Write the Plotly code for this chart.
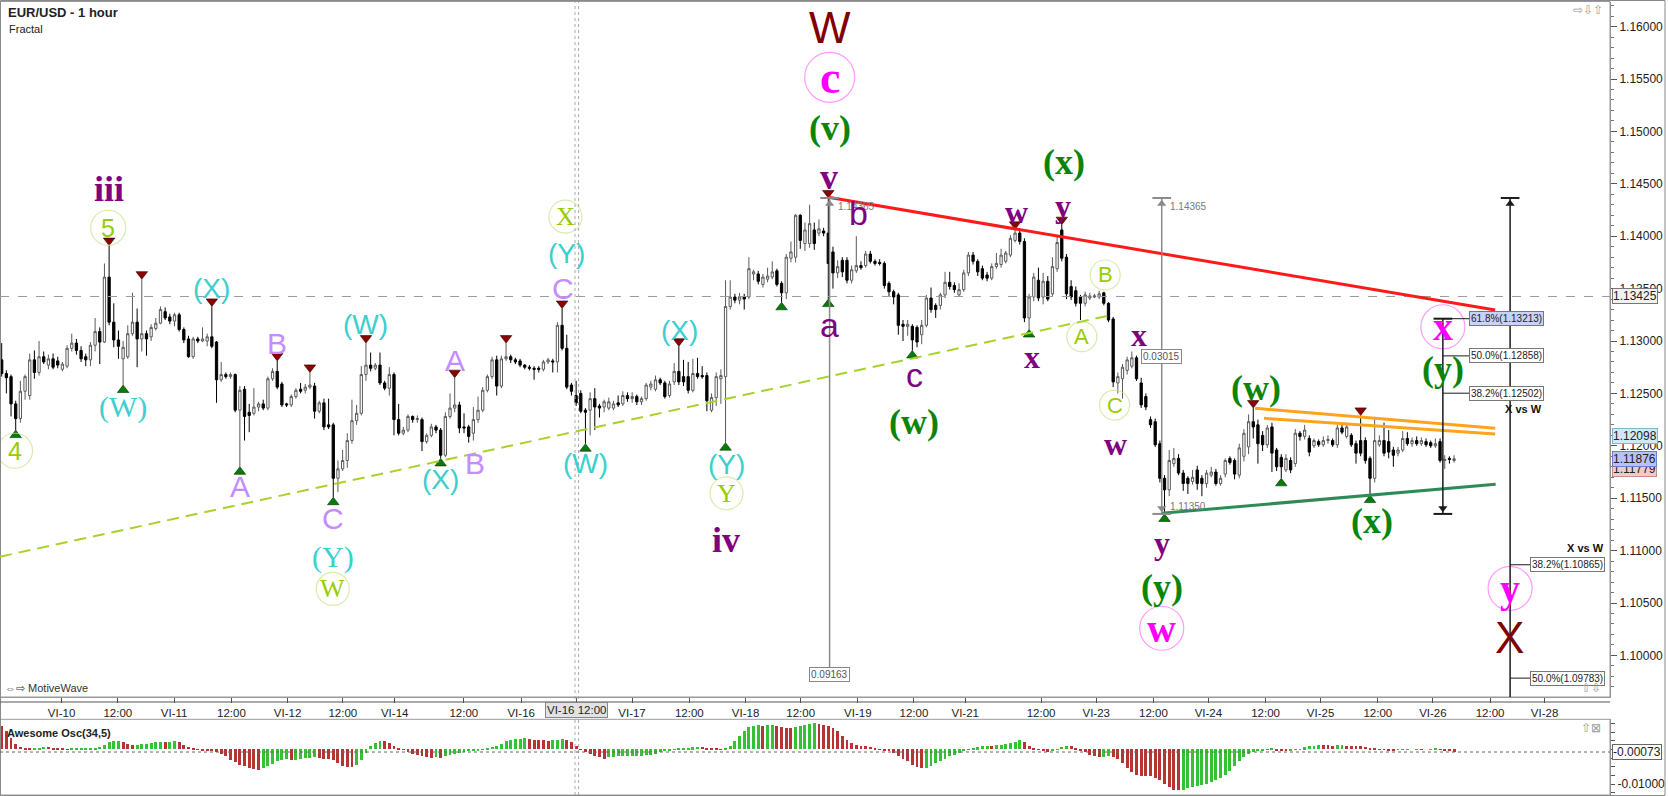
import plotly.graph_objects as go

# ---------------- DATA ----------------
opens = [
    1.1282, 1.1269, 1.1266, 1.1240, 1.1226, 1.1252, 1.1248, 1.1282, 1.1270, 1.1285,
    1.1277, 1.1283, 1.1281, 1.1273, 1.1276, 1.1293, 1.1298, 1.1291, 1.1285, 1.1282,
    1.1296, 1.1309, 1.1299, 1.1361, 1.1318, 1.1301, 1.1283, 1.1285, 1.1307, 1.1318,
    1.1302, 1.1307, 1.1304, 1.1312, 1.1317, 1.1328, 1.1323, 1.1319, 1.1325, 1.1311,
    1.1302, 1.1285, 1.1302, 1.1300, 1.1300, 1.1304, 1.1299, 1.1263, 1.1268, 1.1266,
    1.1268, 1.1234, 1.1254, 1.1232, 1.1231, 1.1237, 1.1240, 1.1236, 1.1264, 1.1271,
    1.1259, 1.1240, 1.1239, 1.1247, 1.1254, 1.1253, 1.1256, 1.1257, 1.1233, 1.1241,
    1.1220, 1.1220, 1.1169, 1.1178, 1.1186, 1.1205, 1.1224, 1.1231, 1.1268, 1.1277,
    1.1274, 1.1277, 1.1260, 1.1255, 1.1268, 1.1225, 1.1212, 1.1215, 1.1228, 1.1225,
    1.1225, 1.1204, 1.1210, 1.1218, 1.1215, 1.1191, 1.1228, 1.1236, 1.1239, 1.1218,
    1.1218, 1.1212, 1.1225, 1.1234, 1.1253, 1.1266, 1.1282, 1.1257, 1.1283, 1.1285,
    1.1282, 1.1281, 1.1277, 1.1275, 1.1274, 1.1274, 1.1273, 1.1280, 1.1281, 1.1280,
    1.1315, 1.1293, 1.1258, 1.1248, 1.1250, 1.1234, 1.1234, 1.1245, 1.1238, 1.1237,
    1.1236, 1.1236, 1.1241, 1.1240, 1.1248, 1.1245, 1.1247, 1.1242, 1.1245, 1.1256,
    1.1254, 1.1263, 1.1260, 1.1248, 1.1261, 1.1271, 1.1266, 1.1266, 1.1253, 1.1269,
    1.1267, 1.1267, 1.1234, 1.1246, 1.1264, 1.1266, 1.1333, 1.1342, 1.1339, 1.1342,
    1.1342, 1.1364, 1.1364, 1.1354, 1.1359, 1.1361, 1.1367, 1.1355, 1.1346, 1.1379,
    1.1380, 1.1420, 1.1393, 1.1393, 1.1406, 1.1403, 1.1405, 1.1403, 1.1385, 1.1365,
    1.1377, 1.1377, 1.1358, 1.1367, 1.1372, 1.1372, 1.1383, 1.1376, 1.1375, 1.1374,
    1.1355, 1.1347, 1.1344, 1.1316, 1.1314, 1.1314, 1.1313, 1.1306, 1.1315, 1.1341,
    1.1334, 1.1334, 1.1344, 1.1356, 1.1353, 1.1344, 1.1349, 1.1365, 1.1382, 1.1376,
    1.1369, 1.1363, 1.1360, 1.1371, 1.1373, 1.1376, 1.1382, 1.1396, 1.1403, 1.1395,
    1.1322, 1.1342, 1.1358, 1.1342, 1.1357, 1.1345, 1.1369, 1.1406, 1.1380, 1.1352,
    1.1348, 1.1342, 1.1336, 1.1341, 1.1342, 1.1342, 1.1346, 1.1336, 1.1321, 1.1260,
    1.1264, 1.1272, 1.1276, 1.1284, 1.1260, 1.1247, 1.1225, 1.1223, 1.1202, 1.1169,
    1.1158, 1.1183, 1.1188, 1.1174, 1.1169, 1.1166, 1.1177, 1.1169, 1.1164, 1.1172,
    1.1175, 1.1164, 1.1173, 1.1188, 1.1186, 1.1172, 1.1190, 1.1199, 1.1223, 1.1220,
    1.1210, 1.1201, 1.1218, 1.1196, 1.1189, 1.1177, 1.1186, 1.1183, 1.1212, 1.1209,
    1.1207, 1.1200, 1.1204, 1.1201, 1.1205, 1.1205, 1.1201, 1.1217, 1.1209, 1.1210,
    1.1202, 1.1205, 1.1205, 1.1188, 1.1169, 1.1201, 1.1205, 1.1204, 1.1196, 1.1193,
    1.1196, 1.1207, 1.1202, 1.1205, 1.1202, 1.1204, 1.1203, 1.1200, 1.1204, 1.1186,
    1.1188, 1.1186,
]
highs = [
    1.1298, 1.1272, 1.1268, 1.1243, 1.1262, 1.1268, 1.1288, 1.1291, 1.1300, 1.1290,
    1.1287, 1.1288, 1.1285, 1.1280, 1.1296, 1.1307, 1.1302, 1.1295, 1.1288, 1.1299,
    1.1322, 1.1313, 1.1374, 1.1391, 1.1336, 1.1310, 1.1300, 1.1315, 1.1346, 1.1331,
    1.1359, 1.1310, 1.1316, 1.1322, 1.1333, 1.1332, 1.1326, 1.1327, 1.1327, 1.1313,
    1.1305, 1.1304, 1.1304, 1.1313, 1.1307, 1.1333, 1.1300, 1.1280, 1.1270, 1.1270,
    1.1269, 1.1257, 1.1257, 1.1240, 1.1255, 1.1242, 1.1244, 1.1266, 1.1274, 1.1281,
    1.1261, 1.1241, 1.1249, 1.1255, 1.1260, 1.1259, 1.1270, 1.1260, 1.1243, 1.1245,
    1.1245, 1.1222, 1.1186, 1.1196, 1.1212, 1.1244, 1.1239, 1.1276, 1.1298, 1.1289,
    1.1279, 1.1289, 1.1262, 1.1275, 1.1270, 1.1240, 1.1218, 1.1230, 1.1229, 1.1229,
    1.1227, 1.1212, 1.1221, 1.1220, 1.1217, 1.1232, 1.1250, 1.1265, 1.1242, 1.1231,
    1.1220, 1.1237, 1.1247, 1.1256, 1.1268, 1.1285, 1.1286, 1.1286, 1.1298, 1.1287,
    1.1284, 1.1283, 1.1278, 1.1277, 1.1276, 1.1276, 1.1282, 1.1284, 1.1283, 1.1318,
    1.1331, 1.1306, 1.1260, 1.1262, 1.1253, 1.1236, 1.1251, 1.1255, 1.1240, 1.1244,
    1.1246, 1.1243, 1.1248, 1.1252, 1.1251, 1.1251, 1.1249, 1.1247, 1.1260, 1.1262,
    1.1267, 1.1265, 1.1262, 1.1262, 1.1279, 1.1295, 1.1282, 1.1280, 1.1283, 1.1284,
    1.1276, 1.1270, 1.1250, 1.1270, 1.1273, 1.1358, 1.1358, 1.1345, 1.1346, 1.1345,
    1.1380, 1.1368, 1.1367, 1.1364, 1.1370, 1.1376, 1.1369, 1.1357, 1.1383, 1.1395,
    1.1421, 1.1421, 1.1413, 1.1430, 1.1413, 1.1416, 1.1408, 1.14365, 1.1390, 1.1377,
    1.1380, 1.1380, 1.1372, 1.1400, 1.1376, 1.1386, 1.1386, 1.1378, 1.1378, 1.1376,
    1.1357, 1.1349, 1.1346, 1.1320, 1.1320, 1.1316, 1.1315, 1.1320, 1.1344, 1.1351,
    1.1336, 1.1346, 1.1366, 1.1366, 1.1356, 1.1355, 1.1368, 1.1385, 1.1385, 1.1378,
    1.1372, 1.1366, 1.1374, 1.1384, 1.1388, 1.1386, 1.1401, 1.14065, 1.1406, 1.1398,
    1.1345, 1.1365, 1.1370, 1.1365, 1.1362, 1.1380, 1.1400, 1.1411, 1.1383, 1.1358,
    1.1352, 1.1344, 1.1347, 1.1346, 1.1345, 1.1348, 1.1347, 1.1337, 1.1323, 1.1270,
    1.1278, 1.1285, 1.1290, 1.1286, 1.1265, 1.1250, 1.1228, 1.1226, 1.1205, 1.1172,
    1.1196, 1.1198, 1.1192, 1.1177, 1.1171, 1.1177, 1.1181, 1.1172, 1.1177, 1.1180,
    1.1178, 1.1172, 1.1188, 1.1190, 1.1188, 1.1202, 1.1216, 1.1230, 1.1236, 1.1225,
    1.1214, 1.1220, 1.1222, 1.1198, 1.1192, 1.1192, 1.1189, 1.1216, 1.1214, 1.1220,
    1.1210, 1.1207, 1.1206, 1.1209, 1.1210, 1.1207, 1.1220, 1.1221, 1.1222, 1.1212,
    1.1205, 1.1229, 1.1208, 1.1190, 1.1226, 1.1210, 1.1222, 1.1215, 1.1199, 1.1199,
    1.1214, 1.1213, 1.1208, 1.1209, 1.1208, 1.1207, 1.1205, 1.1207, 1.1207, 1.1191,
    1.1190, 1.1191,
]
lows = [
    1.1266, 1.1250, 1.1228, 1.1215, 1.1222, 1.1244, 1.1244, 1.1264, 1.1267, 1.1278,
    1.1273, 1.1273, 1.1274, 1.1271, 1.1274, 1.1290, 1.1287, 1.1280, 1.1276, 1.1276,
    1.1290, 1.1278, 1.1298, 1.1315, 1.1294, 1.1283, 1.1258, 1.1283, 1.1305, 1.1275,
    1.1290, 1.1286, 1.1300, 1.1310, 1.1316, 1.1320, 1.1316, 1.1314, 1.1309, 1.1298,
    1.1284, 1.1283, 1.1298, 1.1299, 1.1295, 1.1293, 1.1241, 1.1261, 1.1264, 1.1264,
    1.1232, 1.1180, 1.1205, 1.1213, 1.1229, 1.1233, 1.1234, 1.1234, 1.1262, 1.1254,
    1.1237, 1.1237, 1.1237, 1.1245, 1.1250, 1.1250, 1.1254, 1.1226, 1.1231, 1.1215,
    1.1216, 1.1151, 1.1156, 1.1176, 1.1179, 1.1202, 1.1220, 1.1229, 1.1262, 1.1271,
    1.1272, 1.1258, 1.1253, 1.1248, 1.1210, 1.1210, 1.1210, 1.1213, 1.1222, 1.1222,
    1.1195, 1.1202, 1.1208, 1.1212, 1.1188, 1.1189, 1.1226, 1.1232, 1.1212, 1.1212,
    1.1203, 1.1205, 1.1222, 1.1232, 1.1251, 1.1264, 1.1248, 1.1255, 1.1281, 1.1279,
    1.1278, 1.1275, 1.1273, 1.1272, 1.1263, 1.1270, 1.1271, 1.1278, 1.1270, 1.1270,
    1.1291, 1.1254, 1.1248, 1.1238, 1.1231, 1.1202, 1.1210, 1.1215, 1.1227, 1.1232,
    1.1234, 1.1234, 1.1237, 1.1238, 1.1242, 1.1241, 1.1239, 1.1239, 1.1243, 1.1253,
    1.1252, 1.1258, 1.1245, 1.1246, 1.1258, 1.1258, 1.1257, 1.1250, 1.1251, 1.1264,
    1.1264, 1.1233, 1.1232, 1.1238, 1.1240, 1.1203, 1.1330, 1.1336, 1.1335, 1.1330,
    1.1340, 1.1358, 1.1354, 1.1351, 1.1356, 1.1359, 1.1352, 1.1337, 1.1340, 1.1375,
    1.1375, 1.1388, 1.1386, 1.1389, 1.1387, 1.1400, 1.1400, 1.1340, 1.1350, 1.1360,
    1.1361, 1.1355, 1.1355, 1.1365, 1.1368, 1.1370, 1.1374, 1.1372, 1.1372, 1.1350,
    1.1343, 1.1335, 1.1306, 1.1300, 1.1305, 1.1291, 1.1294, 1.1297, 1.1313, 1.1327,
    1.1322, 1.1330, 1.1341, 1.1349, 1.1346, 1.1342, 1.1347, 1.1362, 1.1373, 1.1362,
    1.1358, 1.1357, 1.1358, 1.1369, 1.1370, 1.1374, 1.1380, 1.1394, 1.1392, 1.1318,
    1.1311, 1.1338, 1.1338, 1.1335, 1.1338, 1.1343, 1.1366, 1.1376, 1.1340, 1.1339,
    1.1333, 1.1320, 1.1333, 1.1339, 1.1341, 1.1340, 1.1334, 1.1318, 1.1256, 1.1250,
    1.1245, 1.1268, 1.1274, 1.1262, 1.1236, 1.1234, 1.1217, 1.1199, 1.1165, 1.1135,
    1.1152, 1.1180, 1.1172, 1.1157, 1.1154, 1.1163, 1.1158, 1.1152, 1.1160, 1.1170,
    1.1162, 1.1162, 1.1170, 1.1182, 1.1168, 1.1169, 1.1185, 1.1192, 1.1207, 1.1183,
    1.1195, 1.1198, 1.1175, 1.1176, 1.1169, 1.1175, 1.1174, 1.1180, 1.1205, 1.1206,
    1.1190, 1.1198, 1.1199, 1.1199, 1.1202, 1.1199, 1.1198, 1.1211, 1.1207, 1.1199,
    1.1183, 1.1190, 1.1183, 1.1153, 1.1165, 1.1199, 1.1190, 1.1188, 1.1180, 1.1190,
    1.1194, 1.1200, 1.1199, 1.1200, 1.1200, 1.1199, 1.1198, 1.1198, 1.1184, 1.1178,
    1.1183, 1.1184,
]
closes = [
    1.1269, 1.1265, 1.1240, 1.1226, 1.1252, 1.1266, 1.1282, 1.1270, 1.1285, 1.1280,
    1.1283, 1.1275, 1.1277, 1.1278, 1.1293, 1.1298, 1.1291, 1.1283, 1.1282, 1.1296,
    1.1309, 1.1299, 1.1361, 1.1318, 1.1301, 1.1295, 1.1294, 1.1307, 1.1318, 1.1302,
    1.1307, 1.1302, 1.1313, 1.1317, 1.1330, 1.1322, 1.1319, 1.1325, 1.1311, 1.1301,
    1.1285, 1.1302, 1.1300, 1.1302, 1.1304, 1.1295, 1.1263, 1.1268, 1.1266, 1.1268,
    1.1234, 1.1253, 1.1228, 1.1229, 1.1237, 1.1240, 1.1236, 1.1264, 1.1271, 1.1256,
    1.1239, 1.1239, 1.1247, 1.1253, 1.1252, 1.1256, 1.1258, 1.1233, 1.1241, 1.1218,
    1.1218, 1.1169, 1.1178, 1.1186, 1.1205, 1.1224, 1.1231, 1.1268, 1.1277, 1.1274,
    1.1277, 1.1260, 1.1255, 1.1268, 1.1225, 1.1212, 1.1215, 1.1228, 1.1225, 1.1226,
    1.1204, 1.1210, 1.1218, 1.1215, 1.1191, 1.1228, 1.1236, 1.1239, 1.1217, 1.1217,
    1.1209, 1.1225, 1.1234, 1.1253, 1.1266, 1.1282, 1.1257, 1.1283, 1.1285, 1.1282,
    1.1280, 1.1277, 1.1275, 1.1274, 1.1273, 1.1273, 1.1280, 1.1282, 1.1280, 1.1315,
    1.1293, 1.1256, 1.1252, 1.1241, 1.1233, 1.1232, 1.1245, 1.1237, 1.1236, 1.1242,
    1.1242, 1.1240, 1.1239, 1.1248, 1.1245, 1.1247, 1.1242, 1.1245, 1.1258, 1.1259,
    1.1263, 1.1260, 1.1247, 1.1259, 1.1271, 1.1261, 1.1261, 1.1253, 1.1269, 1.1266,
    1.1266, 1.1243, 1.1246, 1.1266, 1.1267, 1.1333, 1.1342, 1.1339, 1.1342, 1.1340,
    1.1369, 1.1366, 1.1357, 1.1361, 1.1362, 1.1366, 1.1354, 1.1346, 1.1380, 1.1385,
    1.1420, 1.1396, 1.1406, 1.1412, 1.1393, 1.1407, 1.1403, 1.1374, 1.1365, 1.1371,
    1.1366, 1.1358, 1.1368, 1.1372, 1.1370, 1.1383, 1.1376, 1.1374, 1.1374, 1.1353,
    1.1347, 1.1342, 1.1315, 1.1314, 1.1316, 1.1301, 1.1299, 1.1315, 1.1341, 1.1330,
    1.1330, 1.1344, 1.1356, 1.1352, 1.1349, 1.1349, 1.1365, 1.1382, 1.1376, 1.1366,
    1.1360, 1.1360, 1.1371, 1.1374, 1.1382, 1.1384, 1.1398, 1.1403, 1.1395, 1.1322,
    1.1342, 1.1361, 1.1341, 1.1357, 1.1340, 1.1371, 1.1394, 1.1379, 1.1345, 1.1342,
    1.1336, 1.1336, 1.1344, 1.1343, 1.1343, 1.1345, 1.1336, 1.1320, 1.1261, 1.1266,
    1.1275, 1.1282, 1.1284, 1.1264, 1.1239, 1.1237, 1.1220, 1.1201, 1.1169, 1.1158,
    1.1186, 1.1188, 1.1174, 1.1164, 1.1164, 1.1170, 1.1164, 1.1164, 1.1174, 1.1175,
    1.1164, 1.1169, 1.1186, 1.1184, 1.1173, 1.1198, 1.1212, 1.1223, 1.1218, 1.1202,
    1.1201, 1.1217, 1.1193, 1.1180, 1.1180, 1.1188, 1.1177, 1.1212, 1.1209, 1.1215,
    1.1194, 1.1205, 1.1201, 1.1205, 1.1206, 1.1201, 1.1217, 1.1213, 1.1218, 1.1201,
    1.1193, 1.1193, 1.1186, 1.1169, 1.1205, 1.1205, 1.1193, 1.1194, 1.1191, 1.1196,
    1.1207, 1.1202, 1.1205, 1.1202, 1.1205, 1.1201, 1.1200, 1.1202, 1.1186, 1.1187,
    1.1187, 1.11876,
]
ao_values = [
    0.00681, 0.00517, 0.00324, 0.00159, 0.00063, 0.00024, 0.00014, 0.00024, 0.00043, 0.00063,
    0.00063, 0.00043, 0.00034, 0.00014, 0.00005, 0.00014, 0.00015, 0.00019, 0.00024, 0.00029,
    0.00034, 0.00063, 0.00130, 0.00208, 0.00237, 0.00246, 0.00217, 0.00159, 0.00121, 0.00130,
    0.00140, 0.00159, 0.00179, 0.00198, 0.00208, 0.00203, 0.00217, 0.00227, 0.00198, 0.00130,
    0.00063, 0.00024, -0.00005, -0.00024, -0.00034, -0.00043, -0.00082, -0.00140, -0.00208, -0.00304,
    -0.00382, -0.00449, -0.00497, -0.00546, -0.00575, -0.00594, -0.00546, -0.00478, -0.00420, -0.00353,
    -0.00304, -0.00295, -0.00304, -0.00299, -0.00285, -0.00266, -0.00256, -0.00237, -0.00256, -0.00285,
    -0.00290, -0.00304, -0.00401, -0.00478, -0.00517, -0.00526, -0.00459, -0.00304, -0.00111, 0.00101,
    0.00179, 0.00246, 0.00227, 0.00179, 0.00101, 0.00034, -0.00014, -0.00072, -0.00130, -0.00159,
    -0.00208, -0.00237, -0.00242, -0.00227, -0.00246, -0.00208, -0.00159, -0.00130, -0.00111, -0.00092,
    -0.00063, -0.00043, -0.00024, -0.00014, 0.00024, 0.00063, 0.00101, 0.00159, 0.00227, 0.00275,
    0.00295, 0.00304, 0.00314, 0.00295, 0.00275, 0.00266, 0.00256, 0.00251, 0.00266, 0.00275,
    0.00295, 0.00275, 0.00198, 0.00101, 0.00005, -0.00092, -0.00140, -0.00188, -0.00237, -0.00285,
    -0.00237, -0.00227, -0.00208, -0.00203, -0.00198, -0.00193, -0.00188, -0.00184, -0.00169, -0.00159,
    -0.00130, -0.00092, -0.00063, -0.00024, 0.00005, 0.00024, 0.00034, 0.00043, 0.00053, 0.00063,
    0.00058, 0.00043, 0.00024, 0.00019, 0.00005, 0.00024, 0.00101, 0.00227, 0.00372, 0.00517,
    0.00633, 0.00681, 0.00691, 0.00681, 0.00700, 0.00710, 0.00681, 0.00642, 0.00623, 0.00613,
    0.00642, 0.00662, 0.00700, 0.00729, 0.00758, 0.00739, 0.00710, 0.00662, 0.00613, 0.00517,
    0.00391, 0.00275, 0.00179, 0.00130, 0.00101, 0.00082, 0.00063, 0.00034, 0.00005, -0.00024,
    -0.00063, -0.00111, -0.00208, -0.00285, -0.00353, -0.00449, -0.00517, -0.00555, -0.00546, -0.00478,
    -0.00401, -0.00333, -0.00275, -0.00208, -0.00159, -0.00111, -0.00063, -0.00014, 0.00024, 0.00053,
    0.00082, 0.00101, 0.00097, 0.00111, 0.00121, 0.00150, 0.00179, 0.00217, 0.00256, 0.00198,
    0.00101, 0.00034, -0.00014, -0.00063, -0.00072, -0.00034, 0.00005, 0.00063, 0.00101, 0.00082,
    0.00024, -0.00034, -0.00092, -0.00159, -0.00208, -0.00227, -0.00217, -0.00208, -0.00227, -0.00285,
    -0.00401, -0.00546, -0.00671, -0.00739, -0.00768, -0.00778, -0.00787, -0.00836, -0.00903, -0.01000,
    -0.01096, -0.01174, -0.01193, -0.01174, -0.01125, -0.01096, -0.01058, -0.01029, -0.01000, -0.00961,
    -0.00903, -0.00836, -0.00739, -0.00642, -0.00497, -0.00353, -0.00227, -0.00140, -0.00092, -0.00063,
    -0.00034, 0.00005, 0.00014, -0.00034, -0.00053, -0.00058, -0.00034, -0.00014, 0.00005, 0.00053,
    0.00082, 0.00101, 0.00121, 0.00116, 0.00111, 0.00106, 0.00121, 0.00126, 0.00101, 0.00097,
    0.00092, 0.00082, 0.00063, 0.00043, 0.00024, 0.00005, -0.00014, -0.00024, -0.00029, -0.00014,
    -0.00010, -0.00005, 0.00000, 0.00005, -0.00005, 0.00000, 0.00005, 0.00010, -0.00014, -0.00034,
    -0.00053, -0.00073,
]

tick_labels = ["VI-10", "12:00", "VI-11", "12:00", "VI-12", "12:00", "VI-14", "12:00", "VI-16",
               "VI-16 12:00", "VI-17", "12:00", "VI-18", "12:00", "VI-19", "12:00", "VI-21", "12:00",
               "VI-23", "12:00", "VI-24", "12:00", "VI-25", "12:00", "VI-26", "12:00", "VI-28"]
tick_bars = [12.83, 24.86, 36.92, 49.19, 61.22, 73.04, 84.15, 98.95, 111.24, 123.17, 134.97,
             147.24, 159.29, 171.09, 183.32, 195.33, 206.32, 222.57, 234.37, 246.62, 258.39,
             270.64, 282.42, 294.67, 306.47, 318.71, 330.39]

fractal_high_bars = [23, 30, 45, 59, 66, 78, 97, 108, 120, 145, 177, 217, 227, 268, 291]
fractal_low_bars = [3, 26, 51, 71, 94, 125, 155, 167, 177, 195, 220, 249, 274, 293]

wave_text = ["W", "c", "(v)", "v", "b", "a", "c", "(w)", "(x)", "w", "y", "B", "A", "x", "C",
             "w", "x", "y", "(y)", "w", "(w)", "(x)", "(y)", "x", "y", "X",
             "iii", "5", "(X)", "(W)", "4", "A", "B", "C", "(Y)", "W", "(W)", "(X)", "B", "A",
             "C", "X", "(Y)", "(W)", "(X)", "(Y)", "Y", "iv"]
wave_bar = [177.3, 177.3, 177.3, 177.1, 183.4, 177.3, 195.4, 195.4, 227.4, 217.4, 227.3, 236.3,
            231.3, 220.6, 238.3, 238.4, 243.6, 248.4, 248.4, 248.4, 268.5, 293.4, 308.6, 308.6,
            323.0, 322.8,
            23.0, 22.8, 45.0, 26.0, 2.85, 51.0, 59.0, 70.9, 70.9, 70.9, 77.8, 94.0, 101.3, 97.1,
            120.1, 120.7, 121.0, 125.0, 145.2, 155.2, 155.2, 155.2]
wave_price = [1.16047, 1.15516, 1.15030, 1.14568, 1.14218, 1.13153, 1.12676, 1.12230, 1.14711,
              1.14234, 1.14288, 1.13630, 1.13041, 1.12850, 1.12389, 1.12017, 1.13057, 1.11070,
              1.10656, 1.10259, 1.12556, 1.11282, 1.12733, 1.13136, 1.10640, 1.10173,
              1.14450, 1.14081, 1.13498, 1.12373, 1.11953, 1.11616, 1.12978, 1.11308, 1.10942,
              1.10634, 1.13153, 1.11674, 1.11833, 1.12812, 1.13503, 1.14186, 1.13837, 1.11833,
              1.13105, 1.11817, 1.11547, 1.11101]
wave_style = ["big", "mag_c", "grn", "rom", "pur_s", "pur_s", "pur_s", "grn", "grn", "pur", "pur",
              "yg_abc", "yg_abc", "pur", "yg_abc", "pur", "pur", "pur", "grn", "mag", "grn", "grn",
              "grn", "mag", "mag", "big",
              "rom", "yg_num", "cy", "cy_serif", "yg_num", "lav", "lav", "lav", "cy_serif",
              "yg_let", "cy", "cy", "lav", "lav", "lav", "yg_let", "cy", "cy", "cy", "cy",
              "yg_let", "rom"]

# trend lines drawn on the chart: (bar0, price0, bar1, price1)
trend_bar0 = [177.0, -0.36, 248.4, 268.4, 270.3]
trend_p0 = [1.14371, 1.10942, 1.11356, 1.12358, 1.12262]
trend_bar1 = [319.8, 237.7, 319.9, 319.8, 319.8]
trend_p1 = [1.13296, 1.13248, 1.11633, 1.12167, 1.12113]

# measurement tools
meas_bar = [177.28, 248.4, 308.6, 323.0]
meas_top = [1.14365, 1.14365, 1.13213, 1.14365]
meas_bot = [1.09861, 1.11350, 1.11350, 1.0950]

fib_a_levels = [1.13213, 1.12858, 1.12502]
fib_a_text = ["61.8%(1.13213)", "50.0%(1.12858)", "38.2%(1.12502)"]
fib_b_levels = [1.10865, 1.09783]
fib_b_text = ["38.2%(1.10865)", "50.0%(1.09783)"]

crosshair_price = 1.13425
last_prices = [1.11779, 1.12098, 1.11876]
ao_last = -0.00073

# ---------------- LAYOUT CALIBRATION ----------------
W, H = 1668, 796
PW, PH, TOP = 1610, 793, 2
BAR0, BARW = 1.7, 4.67


def kx(px):
    return (px - BAR0) / BARW


def pyp(py):
    return (TOP + PH - py) / PH


def pxp(px):
    return px / PW


XR = [kx(0), kx(PW)]
YR = [1.09603, 1.16235]
AOR = [-0.01318, 0.00875]
PX_PER_PRICE = (697 - TOP) / (YR[1] - YR[0])

SERIF = "Liberation Serif"
SANS = "Liberation Sans"
STY = {
    "big": dict(family=SANS, size=44, color="#800000", bold=False, circle=None),
    "mag_c": dict(family=SERIF, size=46, color="#ff00ff", bold=True, circle=(50, "#ff70ff")),
    "mag": dict(family=SERIF, size=40, color="#ff00ff", bold=True, circle=(44, "#ff70ff")),
    "grn": dict(family=SERIF, size=36, color="#0a850a", bold=True, circle=None),
    "pur": dict(family=SERIF, size=32, color="#800080", bold=True, circle=None),
    "rom": dict(family=SERIF, size=36, color="#800080", bold=True, circle=None),
    "pur_s": dict(family=SANS, size=34, color="#800080", bold=False, circle=None),
    "lav": dict(family=SANS, size=30, color="#c48cff", bold=False, circle=None),
    "cy": dict(family=SANS, size=28, color="#3ccfcf", bold=False, circle=None),
    "cy_serif": dict(family=SERIF, size=30, color="#3ccfcf", bold=False, circle=None),
    "yg_num": dict(family=SANS, size=25, color="#99cc00", bold=False, circle=(35, "#c8e28a")),
    "yg_let": dict(family=SERIF, size=26, color="#99cc00", bold=False, circle=(33, "#c8e28a")),
    "yg_abc": dict(family=SANS, size=22, color="#99cc00", bold=False, circle=(30, "#c8e28a")),
}

N = len(closes)
bars = list(range(N))

fig = go.Figure()

fig.add_trace(go.Candlestick(
    x=bars, open=opens, high=highs, low=lows, close=closes,
    increasing=dict(line=dict(color="#5a5a5a", width=1), fillcolor="#ffffff"),
    decreasing=dict(line=dict(color="#000000", width=1), fillcolor="#000000"),
    whiskerwidth=0, hoverinfo="skip", showlegend=False, xaxis="x", yaxis="y"))

# fractal markers
fig.add_trace(go.Scatter(
    x=fractal_high_bars, y=[highs[k] + 0.00048 for k in fractal_high_bars], mode="markers",
    marker=dict(symbol="triangle-down", size=10, color="#8b0000", line=dict(color="#300000", width=0.6)),
    hoverinfo="skip", showlegend=False, xaxis="x", yaxis="y"))
fig.add_trace(go.Scatter(
    x=fractal_low_bars, y=[lows[k] - 0.00048 for k in fractal_low_bars], mode="markers",
    marker=dict(symbol="triangle-up", size=10, color="#0a7a0a", line=dict(color="#003000", width=0.6)),
    hoverinfo="skip", showlegend=False, xaxis="x", yaxis="y"))

# AO histogram
ao_colors = []
prev = None
for v in ao_values:
    ao_colors.append("#b53535" if (prev is None or v <= prev) else "#34c234")
    prev = v
fig.add_trace(go.Bar(x=bars, y=ao_values, marker=dict(color=ao_colors, line=dict(width=0)),
                     width=0.62, xaxis="x2", yaxis="y2", hoverinfo="skip", showlegend=False))

shapes = []
# frames
shapes.append(dict(type="rect", xref="paper", yref="paper", x0=0, x1=1, y0=pyp(697), y1=pyp(1.5),
                   line=dict(color="#9a9a9a", width=1)))
shapes.append(dict(type="rect", xref="paper", yref="paper", x0=0, x1=1, y0=pyp(795), y1=pyp(719.3),
                   line=dict(color="#9a9a9a", width=1)))
shapes.append(dict(type="rect", xref="paper", yref="paper", x0=pxp(0.5), x1=pxp(1665), y0=pyp(795.5),
                   y1=pyp(0.5), line=dict(color="#8a8a8a", width=1)))
shapes.append(dict(type="line", xref="paper", yref="paper", x0=0, x1=1, y0=pyp(702), y1=pyp(702),
                   line=dict(color="#555", width=1)))
# crosshair
shapes.append(dict(type="line", xref="paper", yref="y", x0=0, x1=1, y0=crosshair_price, y1=crosshair_price,
                   line=dict(color="#9a9a9a", width=1, dash="dash")))
for xx in (575, 578.6):
    shapes.append(dict(type="line", xref="x", yref="paper", x0=kx(xx), x1=kx(xx), y0=0, y1=1,
                       line=dict(color="#a8a8a8", width=1, dash="dot")))
# AO current-value line
shapes.append(dict(type="line", xref="paper", yref="y2", x0=0, x1=1, y0=ao_last, y1=ao_last,
                   line=dict(color="#666", width=1, dash="dot")))

# trend lines
trend_style = [("#ff1a1a", 3, "solid"), ("#a8d22a", 2, "12px,7px"), ("#2e8b57", 3, "solid"),
               ("#ffa31f", 3, "solid"), ("#ffa31f", 3, "solid")]
for b0, p0, b1, p1, (c, w, d) in zip(trend_bar0, trend_p0, trend_bar1, trend_p1, trend_style):
    shapes.append(dict(type="line", xref="x", yref="y", x0=b0, y0=p0, x1=b1, y1=p1,
                       line=dict(color=c, width=w, dash=d)))

# measurement lines
meas_color = ["#8a8a8a", "#8a8a8a", "#1a1a1a", "#1a1a1a"]
tbar_top = [True, True, True, True]
tbar_bot = [False, True, True, False]
half = 2.0
arrow_x, arrow_y, arrow_sym, arrow_col = [], [], [], []
for i, (b, pt, pb) in enumerate(zip(meas_bar, meas_top, meas_bot)):
    c = meas_color[i]
    shapes.append(dict(type="line", xref="x", yref="y", x0=b, x1=b, y0=pb, y1=pt, line=dict(color=c, width=1.5)))
    if tbar_top[i]:
        shapes.append(dict(type="line", xref="x", yref="y", x0=b - half, x1=b + half, y0=pt, y1=pt,
                           line=dict(color=c, width=2)))
    if tbar_bot[i]:
        shapes.append(dict(type="line", xref="x", yref="y", x0=b - half, x1=b + half, y0=pb, y1=pb,
                           line=dict(color=c, width=2)))
for i, up in [(0, True), (1, True), (1, False), (2, False), (3, True)]:
    arrow_x.append(meas_bar[i])
    arrow_y.append(meas_top[i] - 0.00055 if up else meas_bot[i] + 0.00055)
    arrow_sym.append("triangle-up" if up else "triangle-down")
    arrow_col.append(meas_color[i])
fig.add_trace(go.Scatter(x=arrow_x, y=arrow_y, mode="markers",
                         marker=dict(symbol=arrow_sym, size=8, color=arrow_col),
                         hoverinfo="skip", showlegend=False, xaxis="x", yaxis="y"))

# fib connectors
for lv in fib_a_levels:
    shapes.append(dict(type="line", xref="x", yref="y", x0=meas_bar[2], x1=kx(1469), y0=lv, y1=lv,
                       line=dict(color="#1a1a1a", width=1)))
for lv in fib_b_levels:
    shapes.append(dict(type="line", xref="x", yref="y", x0=meas_bar[3], x1=kx(1530), y0=lv, y1=lv,
                       line=dict(color="#1a1a1a", width=1)))

ann = []


def add_text(x, y, text, size=10, color="#333", family=SANS, xanchor="center", yanchor="middle",
             xref="x", yref="y", bg=None, border=None, pad=1):
    d = dict(x=x, y=y, xref=xref, yref=yref, text=text, showarrow=False, xanchor=xanchor,
             yanchor=yanchor, font=dict(size=size, color=color, family=family))
    if bg:
        d["bgcolor"] = bg
    if border:
        d["bordercolor"] = border
        d["borderwidth"] = 1
        d["borderpad"] = pad
    ann.append(d)


# measurement texts
add_text(kx(836), 1.14282, "1.14365", size=10, color="#777", xanchor="left")
add_text(kx(1168), 1.14282, "1.14365", size=10, color="#777", xanchor="left")
add_text(kx(1168), 1.11419, "1.11350", size=10, color="#777", xanchor="left")
add_text(meas_bar[0], 1.09813, "0.09163", size=10, color="#555", bg="white", border="#888")
add_text(meas_bar[1], 1.12857, "0.03015", size=10, color="#555", bg="white", border="#888")
for lv, t in zip(fib_a_levels, fib_a_text):
    add_text(kx(1469), lv, t, size=10, color="#222", xanchor="left",
             bg="#c8d2fa" if t.startswith("61.8") else "white", border="#777")
for lv, t in zip(fib_b_levels, fib_b_text):
    add_text(kx(1530), lv, t, size=10, color="#222", xanchor="left", bg="white", border="#777")
add_text(kx(1523), 1.12348, "<b>X vs W</b>", size=11, color="#111")
add_text(kx(1585), 1.11022, "<b>X vs W</b>", size=11, color="#111")

# wave labels and circles
circ_x, circ_y, circ_s, circ_c = [], [], [], []
for t, b, p, s in zip(wave_text, wave_bar, wave_price, wave_style):
    st = STY[s]
    txt = "<b>%s</b>" % t if st["bold"] else t
    half_box = 0.62 * st["size"] / PX_PER_PRICE
    if p + half_box > YR[1]:
        # label touching the top edge: pin its text box to the top of the figure (paper coords)
        add_text(b, pyp(0.5), txt, size=st["size"], color=st["color"], family=st["family"],
                 yanchor="top", yref="paper")
    else:
        add_text(b, p, txt, size=st["size"], color=st["color"], family=st["family"])
    if st["circle"]:
        circ_x.append(b)
        circ_y.append(p)
        circ_s.append(st["circle"][0])
        circ_c.append(st["circle"][1])
fig.add_trace(go.Scatter(x=circ_x, y=circ_y, mode="markers",
                         marker=dict(symbol="circle-open", size=circ_s, color=circ_c, line=dict(width=1.2)),
                         hoverinfo="skip", showlegend=False, xaxis="x", yaxis="y"))

# header texts
add_text(pxp(6), pyp(12.7), "<b>EUR/USD - 1 hour</b>", size=13, color="#222", xanchor="left",
         xref="paper", yref="paper")
add_text(pxp(7), pyp(29.3), "Fractal", size=11, color="#222", xanchor="left", xref="paper", yref="paper")
add_text(pxp(3), pyp(688), "⇔⇨ MotiveWave", size=11, color="#333", xanchor="left", xref="paper", yref="paper")
add_text(pxp(5), pyp(732.7), "<b>Awesome Osc(34,5)</b>", size=11, color="#222", xanchor="left",
         xref="paper", yref="paper")
add_text(pxp(1605), pyp(9.5), "⇨⇩⇧", size=12, color="#999", xanchor="right", xref="paper", yref="paper")
add_text(pxp(1603), pyp(688), "⇧⇩", size=12, color="#999", xanchor="right", xref="paper", yref="paper")
add_text(pxp(1603), pyp(728), "⇧⊠", size=12, color="#999", xanchor="right", xref="paper", yref="paper")
# x-axis highlighted crosshair label
add_text(tick_bars[tick_labels.index("VI-16 12:00")], pyp(709.5), "VI-16 12:00", size=11.5, color="#222",
         yref="paper", bg="#e2e2e2", border="#888", pad=1)

# right-axis price boxes
add_text(1.0015, crosshair_price, "1.13425", size=12, color="#222", xanchor="left", xref="paper",
         bg="#f2f2f2", border="#777", pad=0)
box_cols = [("#f6c9c9", "#c98a8a"), ("#cfe9f7", "#86b6cf"), ("#b9c1f6", "#6f7fcf")]
for pr, (bg, bd) in zip(last_prices, box_cols):
    add_text(1.0015, pr, "%.5f" % pr, size=12, color="#222", xanchor="left", xref="paper",
             bg=bg, border=bd, pad=0)
add_text(1.0015, ao_last, "%.5f" % ao_last, size=12, color="#222", xanchor="left", xref="paper",
         yref="y2", bg="white", border="#666", pad=0)

ao_ticks = [-0.0125, -0.01, -0.0075, -0.005, -0.0025, 0.0, 0.0025, 0.005, 0.0075]
ao_ticktext = ["", "-0.01000", "", "", "", "", "", "", ""]

fig.update_layout(
    width=W, height=H,
    margin=dict(l=0, r=W - PW, t=TOP, b=H - TOP - PH),
    paper_bgcolor="white", plot_bgcolor="white",
    font=dict(family=SANS, size=12, color="#222"),
    showlegend=False,
    xaxis=dict(domain=[0, 1], range=XR, anchor="y", tickmode="array", tickvals=tick_bars,
               ticktext=tick_labels, ticks="outside", ticklen=5, tickcolor="#555", tickangle=0,
               tickfont=dict(size=11.5, color="#222"), showgrid=False, zeroline=False,
               showline=True, linecolor="#999", rangeslider=dict(visible=False), fixedrange=True),
    yaxis=dict(domain=[pyp(697), 1], range=YR, side="right", anchor="x", tickmode="linear",
               tick0=1.10, dtick=0.005, tickformat=".5f", ticks="outside", ticklen=6,
               tickcolor="#555", minor=dict(dtick=0.001, ticks="outside", ticklen=3, tickcolor="#777"),
               showgrid=False, zeroline=False, showline=True, linecolor="#888",
               tickfont=dict(size=12, color="#222"), fixedrange=True),
    xaxis2=dict(domain=[0, 1], range=XR, anchor="y2", showticklabels=False, ticks="",
                showgrid=False, zeroline=False, showline=False, fixedrange=True),
    yaxis2=dict(domain=[0, pyp(719.3)], range=AOR, side="right", anchor="x2", tickmode="array",
                tickvals=ao_ticks, ticktext=ao_ticktext, ticks="outside", ticklen=4, tickcolor="#555",
                showgrid=False, zeroline=False, showline=True, linecolor="#888",
                tickfont=dict(size=12, color="#222"), fixedrange=True),
    shapes=shapes,
    annotations=ann,
    bargap=0,
)

fig.write_html("out.html", config={"displayModeBar": False},
               post_script="document.body.style.margin='0';document.body.style.overflow='hidden';")
